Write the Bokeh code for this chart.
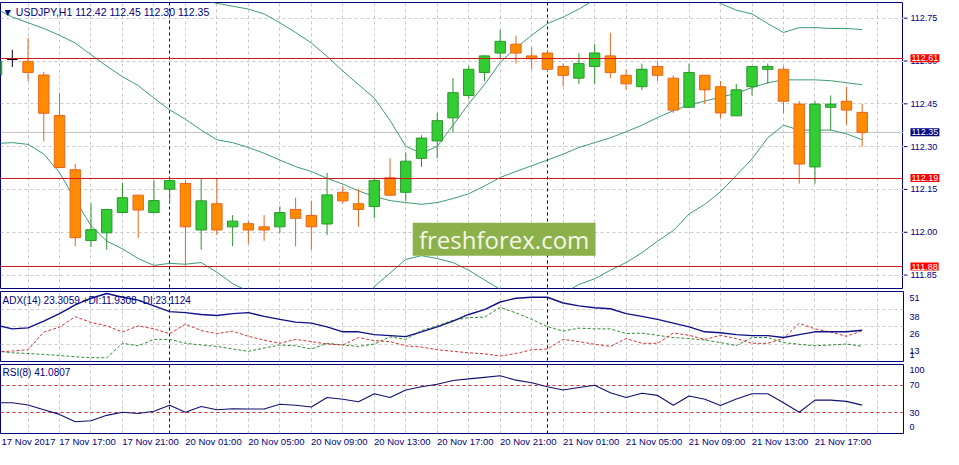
from bokeh.plotting import figure
from bokeh.layouts import column, row
from bokeh.models import (Range1d, FixedTicker, Label, ColumnDataSource, BoxAnnotation)
from bokeh.core.properties import value
from bokeh.embed import file_html
from bokeh.resources import INLINE

NA = float("nan")

# ---------------- data ----------------
bars = list(range(-1, 55))  # hourly bars, 17 Nov 13:00 .. 21 Nov 20:00
opens = [112.551, 112.606, 112.599, 112.551, 112.409, 112.219, 111.971, 111.998, 112.069, 112.130,
         112.069, 112.151, 112.171, 112.008, 112.100, 112.019, 112.030, 112.019, 112.019, 112.080,
         112.059, 112.029, 112.140, 112.100, 112.090, 112.191, 112.140, 112.259, 112.320, 112.401,
         112.479, 112.560, 112.628, 112.659, 112.618, 112.628, 112.581, 112.540, 112.581, 112.618,
         112.550, 112.510, 112.581, 112.540, 112.438, 112.550, 112.510, 112.408, 112.510, 112.571,
         112.571, 112.449, 112.229, 112.438, 112.459, 112.420]
highs = [112.612, 112.639, 112.681, 112.562, 112.490, 112.239, 112.101, 112.082, 112.173, 112.130,
         112.182, 112.192, 112.182, 112.190, 112.190, 112.060, 112.039, 112.060, 112.091, 112.121,
         112.111, 112.208, 112.162, 112.152, 112.191, 112.259, 112.280, 112.340, 112.418, 112.540,
         112.582, 112.620, 112.709, 112.689, 112.648, 112.638, 112.591, 112.628, 112.659, 112.699,
         112.571, 112.591, 112.598, 112.550, 112.591, 112.551, 112.530, 112.520, 112.582, 112.591,
         112.581, 112.459, 112.459, 112.479, 112.510, 112.450]
lows = [112.545, 112.579, 112.529, 112.319, 112.225, 111.951, 111.948, 111.939, 112.067, 111.980,
        112.068, 112.100, 111.883, 111.939, 111.991, 111.951, 111.960, 111.970, 111.998, 111.951,
        111.939, 111.991, 112.100, 112.019, 112.049, 112.129, 112.109, 112.229, 112.259, 112.350,
        112.468, 112.529, 112.608, 112.591, 112.571, 112.560, 112.510, 112.520, 112.520, 112.540,
        112.499, 112.499, 112.530, 112.418, 112.437, 112.449, 112.400, 112.407, 112.479, 112.520,
        112.418, 112.170, 112.170, 112.357, 112.377, 112.300]
closes = [112.599, 112.606, 112.560, 112.417, 112.227, 111.981, 112.009, 112.080, 112.121, 112.078,
          112.111, 112.181, 112.019, 112.110, 112.008, 112.039, 112.008, 112.008, 112.069, 112.049,
          112.019, 112.131, 112.110, 112.080, 112.181, 112.130, 112.249, 112.330, 112.391, 112.489,
          112.571, 112.618, 112.669, 112.628, 112.608, 112.571, 112.550, 112.591, 112.628, 112.560,
          112.520, 112.571, 112.550, 112.428, 112.560, 112.499, 112.418, 112.499, 112.581, 112.581,
          112.459, 112.239, 112.449, 112.449, 112.428, 112.350]

bb_upper = [NA, NA, NA, NA, NA, NA, NA, NA, NA, NA,
            NA, NA, 112.836, 112.815, 112.802, 112.792, 112.782, 112.765, 112.734, 112.700,
            112.663, 112.616, 112.565, 112.517, 112.470, 112.392, 112.301, 112.277, 112.301, 112.375,
            112.450, 112.517, 112.595, 112.646, 112.690, 112.731, 112.754, 112.782, 112.815, 112.842,
            112.859, 112.870, 112.870, 112.859, 112.842, 112.822, 112.802, 112.778, 112.765, 112.731,
            112.700, 112.717, 112.717, 112.714, 112.714, 112.710]
bb_middle = [112.782, 112.754, 112.734, 112.714, 112.690, 112.663, 112.622, 112.582, 112.545, 112.514,
             112.470, 112.429, 112.396, 112.358, 112.324, 112.314, 112.297, 112.277, 112.253, 112.230,
             112.213, 112.189, 112.169, 112.145, 112.125, 112.111, 112.104, 112.098, 112.104, 112.118,
             112.135, 112.162, 112.192, 112.213, 112.233, 112.253, 112.274, 112.297, 112.314, 112.331,
             112.352, 112.375, 112.402, 112.426, 112.446, 112.460, 112.473, 112.487, 112.507, 112.524,
             112.534, 112.534, 112.534, 112.531, 112.524, 112.517]
bb_lower = [112.311, 112.314, 112.308, 112.274, 112.209, 112.114, 112.023, 111.969, 111.942, 111.908,
            111.884, 111.891, 111.888, 111.894, 111.860, 111.820, 111.793, 111.773, 111.752, 111.732,
            111.722, 111.718, 111.725, 111.752, 111.810, 111.857, 111.905, 111.918, 111.908, 111.894,
            111.867, 111.833, 111.800, 111.776, 111.759, 111.759, 111.786, 111.817, 111.837, 111.867,
            111.894, 111.928, 111.969, 112.006, 112.064, 112.098, 112.142, 112.199, 112.257, 112.331,
            112.375, 112.358, 112.358, 112.358, 112.345, 112.324]

adx = [27.0, 24.3, 25.0, 29.8, 35.2, 41.4, 46.2, 49.6, 46.9, 44.8,
       40.7, 36.6, 35.9, 34.6, 33.9, 35.2, 35.9, 33.2, 31.1, 29.1,
       28.4, 25.7, 22.2, 22.2, 20.2, 19.5, 18.8, 22.2, 25.7, 29.8,
       34.6, 38.0, 43.5, 46.2, 46.9, 46.9, 42.8, 40.7, 39.4, 38.7,
       35.2, 33.2, 31.1, 28.4, 25.7, 22.2, 21.5, 20.2, 19.5, 19.5,
       18.1, 20.2, 22.2, 22.2, 22.2, 23.3]
plus_di = [8.5, 7.2, 6.7, 6.1, 5.3, 4.4, 3.7, 3.7, 14.0, 12.2,
           16.8, 16.8, 14.0, 12.8, 11.8, 9.9, 8.3, 10.6, 12.8, 12.2,
           9.9, 14.0, 12.8, 11.8, 13.5, 18.6, 16.8, 23.1, 26.5, 30.5,
           32.3, 32.7, 39.6, 35.7, 31.1, 25.9, 22.7, 24.8, 24.3, 24.3,
           20.9, 21.3, 19.7, 18.1, 17.4, 16.3, 14.5, 12.4, 18.1, 18.1,
           14.5, 13.3, 12.2, 12.8, 13.5, 11.9]
minus_di = [7.8, 8.5, 9.4, 22.0, 25.5, 33.0, 28.9, 26.5, 22.0, 26.5,
            24.3, 20.9, 27.7, 23.1, 20.9, 22.7, 19.0, 16.3, 14.0, 16.8,
            15.2, 13.5, 12.8, 18.1, 15.9, 15.2, 12.2, 11.3, 9.4, 8.3,
            7.2, 6.5, 4.9, 6.7, 9.4, 9.9, 16.8, 15.2, 13.3, 11.8,
            17.4, 14.0, 14.0, 21.3, 19.7, 16.8, 19.7, 17.4, 14.0, 14.0,
            17.4, 28.2, 24.3, 22.0, 19.0, 23.1]
rsi = [44.6, 44.6, 41.4, 34.5, 27.7, 17.0, 18.4, 26.3, 30.8, 29.0,
       32.2, 41.0, 30.8, 39.1, 34.5, 35.9, 35.5, 35.5, 42.4, 41.0,
       38.3, 52.1, 49.7, 46.0, 57.6, 52.1, 63.1, 67.7, 71.4, 76.9,
       79.1, 81.4, 83.8, 77.3, 73.6, 67.7, 63.1, 66.7, 70.0, 59.0,
       52.1, 58.4, 55.2, 41.0, 54.3, 49.7, 40.5, 50.1, 57.6, 57.6,
       44.6, 30.8, 48.3, 48.3, 46.6, 41.1]

time_label_bars = [-0.75, 3, 7, 11, 15, 19, 23, 27, 31, 35, 39, 43, 47, 51]
time_labels = ["17 Nov 2017", "17 Nov 17:00", "17 Nov 21:00", "20 Nov 01:00", "20 Nov 05:00",
               "20 Nov 09:00", "20 Nov 13:00", "20 Nov 17:00", "20 Nov 21:00", "21 Nov 01:00",
               "21 Nov 05:00", "21 Nov 09:00", "21 Nov 13:00", "21 Nov 17:00"]
day_separator_bars = [10, 34]
price_ticks = [112.75, 112.60, 112.45, 112.30, 112.15, 112.00, 111.85]
red_levels = [112.61, 112.19, 111.88]
current_price = 112.35
rsi_levels = [70, 30]
adx_label_texts = ["51", "38", "26", "13", "1"]
rsi_label_texts = ["100", "70", "30", "0"]

main_title = "\u25BC USDJPY,H1  112.42 112.45 112.30 112.35"
adx_title = "ADX(14) 23.3059 +DI:11.9308 -DI:23.1124"
rsi_title = "RSI(8) 41.0807"

# ---------------- styling ----------------
FONT = "Liberation Sans"
NAVY = "#000080"
GRID = "#C8C8C8"
BB_COLOR = "#3C9C6E"
UP_FILL, UP_LINE = "#32CD32", "#2A962A"
DN_FILL, DN_LINE = "#FF8C00", "#E8641C"
RED = "#D01818"

W = 943
RIGHT = 40
FRAME_W = W - RIGHT
PX_PER_BAR = FRAME_W / 57.375
LABEL_HALF = 28.0 / PX_PER_BAR   # half width of a time label, in bars

x_range = Range1d(-0.75, 56.625)
grid_x = list(range(-1, 57, 2))


def make_panel(width, height, y_range, top, bottom, right_axis=True, right=RIGHT):
    p = figure(width=width, height=height, x_range=x_range, y_range=y_range,
               output_backend="svg", toolbar_location=None,
               x_axis_location=None, y_axis_location="right" if right_axis else None,
               min_border_left=0, min_border_right=right,
               min_border_top=top, min_border_bottom=bottom)
    p.outline_line_color = NAVY
    p.outline_line_width = 1
    p.background_fill_color = "white"
    p.border_fill_color = "white"
    if right_axis:
        ax = p.yaxis[0]
        ax.axis_line_color = None
        ax.major_tick_line_color = None
        ax.major_tick_out = 0
        ax.major_tick_in = 0
        ax.minor_tick_line_color = None
        ax.major_label_text_font = FONT
        ax.major_label_text_font_size = "9px"
        ax.major_label_text_color = NAVY
        ax.major_label_standoff = 6
    p.xgrid.ticker = FixedTicker(ticks=grid_x)
    p.grid.grid_line_color = GRID
    p.grid.grid_line_dash = "3 3"
    p.grid.grid_line_width = 1
    return p


def title_label(p, text, frame_h, size="10px"):
    p.add_layout(Label(x=2, y=frame_h - 9, x_units="screen", y_units="screen",
                       text=text, text_font=FONT, text_font_size=size,
                       text_color=NAVY, text_baseline="middle", text_align="left"))


# ---------------- main price panel ----------------
MAIN_H = 286
main_y = Range1d(111.803, 112.805)
pm = make_panel(FRAME_W, MAIN_H + 3, main_y, 2, 1, right_axis=False, right=0)
pm.ygrid.ticker = FixedTicker(ticks=price_ticks)

pm.hspan(y=[current_price], line_color="#C4C4C4", line_width=1)
pm.vspan(x=day_separator_bars, line_color=NAVY, line_dash="3 3", line_width=1)

pm.line(bars, bb_upper, line_color=BB_COLOR, line_width=1)
pm.line(bars, bb_middle, line_color=BB_COLOR, line_width=1)
pm.line(bars, bb_lower, line_color=BB_COLOR, line_width=1)

body_top = [max(o, c) for o, c in zip(opens, closes)]
body_bot = [min(o, c) for o, c in zip(opens, closes)]
line_cols = [UP_LINE if c > o else (DN_LINE if c < o else "black") for o, c in zip(opens, closes)]
fill_cols = [UP_FILL if c > o else (DN_FILL if c < o else "black") for o, c in zip(opens, closes)]
src = ColumnDataSource(dict(x=bars, high=highs, low=lows, top=body_top, bot=body_bot,
                            lc=line_cols, fc=fill_cols))
pm.segment(x0="x", y0="low", x1="x", y1="high", line_color="lc", line_width=1, source=src)
pm.vbar(x="x", top="top", bottom="bot", width=0.66, fill_color="fc", line_color="lc",
        line_width=1, source=src)

pm.hspan(y=red_levels, line_color=RED, line_width=1)

# watermark
pm.add_layout(BoxAnnotation(left=25.44, right=37.06, top=112.033, bottom=111.918,
                            fill_color="#8DB14A", fill_alpha=1.0, line_color=None))
pm.add_layout(Label(x=31.25, y=111.9755, text="freshforex.com", text_font="Open Sans",
                    text_font_size="24px", text_color="#F4F7EA", text_align="center",
                    text_baseline="middle"))

title_label(pm, main_title, MAIN_H, "10.5px")

# price scale of the main panel (shares the price range)
pax = figure(width=RIGHT, height=MAIN_H + 3, x_range=Range1d(0, RIGHT), y_range=main_y,
             output_backend="svg", toolbar_location=None,
             x_axis_location=None, y_axis_location=None,
             min_border_left=0, min_border_right=0, min_border_top=2, min_border_bottom=1)
pax.outline_line_color = None
pax.grid.visible = False
pax.background_fill_color = "white"
pax.border_fill_color = "white"
tick_src = ColumnDataSource(dict(y=price_ticks, t=[f"{v:.2f}" for v in price_ticks]))
pax.segment(x0=0, y0="y", x1=4, y1="y", line_color=NAVY, line_width=1, source=tick_src)
pax.text(x=7, y="y", text="t", text_font=value(FONT), text_font_size="9px",
         text_color=NAVY, text_baseline="middle", text_align="left", source=tick_src)
box_vals = red_levels + [current_price]
box_src = ColumnDataSource(dict(y=box_vals, t=[f"{v:.2f}" for v in box_vals],
                                bg=["#FF0000"] * len(red_levels) + [NAVY]))
pax.text(x=7, y="y", text="t", text_font=value(FONT), text_font_size="9px",
         text_color="white", text_baseline="middle", text_align="left",
         background_fill_color="bg", padding=1, source=box_src)

# ---------------- ADX panel ----------------
SUB_H = 70
pa = make_panel(W, SUB_H + 3, Range1d(1, 51), 2, 1)
adx_label_pos = [46.4, 32.7, 20.4, 8.3, 5.3]
pa.yaxis[0].ticker = FixedTicker(ticks=adx_label_pos)
pa.yaxis[0].major_label_overrides = {v: t for v, t in zip(adx_label_pos, adx_label_texts)}
pa.ygrid.ticker = FixedTicker(ticks=[38.5, 26, 13.5])
pa.vspan(x=day_separator_bars, line_color=NAVY, line_dash="3 3", line_width=1)
pa.line(bars, plus_di, line_color="#2E8B2E", line_dash="3 2", line_width=1)
pa.line(bars, minus_di, line_color="#D83030", line_dash="3 2", line_width=1)
pa.line(bars, adx, line_color="#101088", line_width=1.4)
title_label(pa, adx_title, SUB_H)

# ---------------- RSI panel ----------------
pr = make_panel(W, SUB_H + 17, Range1d(0, 100), 2, 15)
rsi_label_pos = [92, 70, 30, 9.3]
pr.yaxis[0].ticker = FixedTicker(ticks=rsi_label_pos)
pr.yaxis[0].major_label_overrides = {v: t for v, t in zip(rsi_label_pos, rsi_label_texts)}
pr.ygrid.ticker = FixedTicker(ticks=rsi_levels)
pr.vspan(x=day_separator_bars, line_color=NAVY, line_dash="3 3", line_width=1)
pr.hspan(y=rsi_levels, line_color="#D03030", line_dash="3 3", line_width=1)
pr.line(bars, rsi, line_color="#101070", line_width=1.1)
title_label(pr, rsi_title, SUB_H)

# time scale: label centres sit half a label to the right of each bar (left-aligned look)
label_centres = [round(b + LABEL_HALF, 4) for b in time_label_bars]
from bokeh.models import LinearAxis
tax = LinearAxis(ticker=FixedTicker(ticks=label_centres),
                 major_label_overrides={c: t for c, t in zip(label_centres, time_labels)})
tax.axis_line_color = None
tax.major_tick_line_color = None
tax.minor_tick_line_color = None
tax.major_tick_out = 0
tax.major_label_standoff = 2
tax.major_label_text_font = FONT
tax.major_label_text_font_size = "9.5px"
tax.major_label_text_color = NAVY
pr.add_layout(tax, "below")

layout = column(row(pm, pax, spacing=0), pa, pr, spacing=0)
open("out.html", "w").write(file_html(layout, INLINE))
